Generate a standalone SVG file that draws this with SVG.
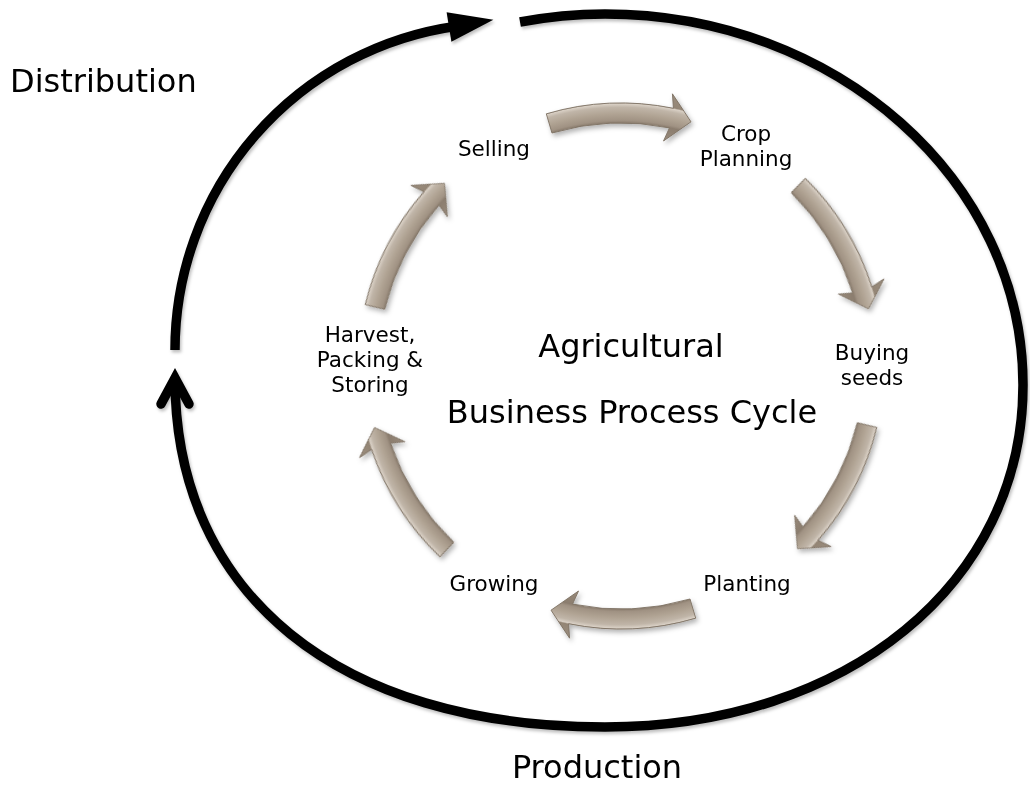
<svg xmlns="http://www.w3.org/2000/svg" xmlns:xlink="http://www.w3.org/1999/xlink" width="1030" height="785" viewBox="0 0 1030 785">
  <style>
    .lbl { font-family: "DejaVu Sans", Verdana, sans-serif; font-size: 21.5px; fill: #000; text-anchor: middle; }
    .big { font-size: 32px; }
    .loop { fill: none; stroke: #000; stroke-width: 9.5; }
    .cyc { fill: url(#tube); stroke: #7d7062; stroke-width: 0.9; }
  </style>
  <defs>
    <!-- bevelled tube shading across the arrow band (radius 243..263 around the cycle centre) -->
    <radialGradient id="tube" gradientUnits="userSpaceOnUse" cx="0" cy="0" r="280">
      <stop offset="0.80" stop-color="#9d8f80"/>
      <stop offset="0.868" stop-color="#8b7d6e"/>
      <stop offset="0.877" stop-color="#a09283"/>
      <stop offset="0.900" stop-color="#b0a393"/>
      <stop offset="0.924" stop-color="#c0b5a8"/>
      <stop offset="0.936" stop-color="#d9d0c5"/>
      <stop offset="0.941" stop-color="#938575"/>
      <stop offset="1" stop-color="#9d8f80"/>
    </radialGradient>
    <filter id="arrowShadow" x="-10%" y="-10%" width="120%" height="120%">
      <feDropShadow dx="2" dy="3" stdDeviation="2.5" flood-color="#000" flood-opacity="0.3"/>
    </filter>
    <filter id="lineShadow" x="-5%" y="-5%" width="110%" height="110%">
      <feDropShadow dx="1.5" dy="2.5" stdDeviation="1.5" flood-color="#000" flood-opacity="0.25"/>
    </filter>
    <!-- one curved block arrow, drawn at the top of the cycle around the origin -->
    <path id="arw" d="M-74.70,-252.17 A263,263 0 0 1 52.43,-257.72 L51.43,-272.18 L70.01,-244.16 L42.52,-225.02 L48.45,-238.12 A243,243 0 0 0 -69.02,-233.01 Z"/>
  </defs>

  <rect width="1030" height="785" fill="#fff"/>

  <g id="connectors">
    <g id="outer-loop" filter="url(#lineShadow)">
      <path id="distribution-arc" class="loop" d="M175 350 A327 327 0 0 1 456.5 26.2"/>
      <polygon id="distribution-head" points="446.6,12.2 493.4,19.7 451.4,41.8" fill="#000"/>
      <path id="production-arc" class="loop" d="M520 22 A418 371 0 0 1 605 14 C835.9,14 1023,180.1 1023,385 C1023,582.8 847.4,727 605,727 C338.4,727 175,594.5 175,378"/>
      <path id="production-head" class="loop" d="M161 404 L175 378 L189 404" stroke-linecap="round" stroke-linejoin="miter"/>
    </g>
    <g id="cycle-arrows" filter="url(#arrowShadow)">
      <use class="cyc" xlink:href="#arw" href="#arw" transform="translate(621 366) rotate(0)"/>
      <use class="cyc" xlink:href="#arw" href="#arw" transform="translate(621 366) rotate(61)"/>
      <use class="cyc" xlink:href="#arw" href="#arw" transform="translate(621 366) rotate(120)"/>
      <use class="cyc" xlink:href="#arw" href="#arw" transform="translate(621 366) rotate(180)"/>
      <use class="cyc" xlink:href="#arw" href="#arw" transform="translate(621 366) rotate(240)"/>
      <use class="cyc" xlink:href="#arw" href="#arw" transform="translate(621 366) rotate(300)"/>
    </g>
  </g>

  <g id="node-selling"><text class="lbl" x="494" y="156">Selling</text></g>
  <g id="node-crop-planning">
    <text class="lbl" x="746" y="141">Crop</text>
    <text class="lbl" x="746" y="166">Planning</text>
  </g>
  <g id="node-buying-seeds">
    <text class="lbl" x="872" y="360">Buying</text>
    <text class="lbl" x="872" y="385">seeds</text>
  </g>
  <g id="node-planting"><text class="lbl" x="747" y="591">Planting</text></g>
  <g id="node-growing"><text class="lbl" x="494" y="591">Growing</text></g>
  <g id="node-harvest">
    <text class="lbl" x="370" y="342">Harvest,</text>
    <text class="lbl" x="370" y="367">Packing &amp;</text>
    <text class="lbl" x="370" y="392">Storing</text>
  </g>
  <g id="title">
    <text class="lbl big" x="631" y="357">Agricultural</text>
    <text class="lbl big" x="632" y="423">Business Process Cycle</text>
  </g>
  <g id="label-distribution"><text class="lbl big" x="10" y="92" style="text-anchor:start">Distribution</text></g>
  <g id="label-production"><text class="lbl big" x="597" y="778">Production</text></g>
</svg>
